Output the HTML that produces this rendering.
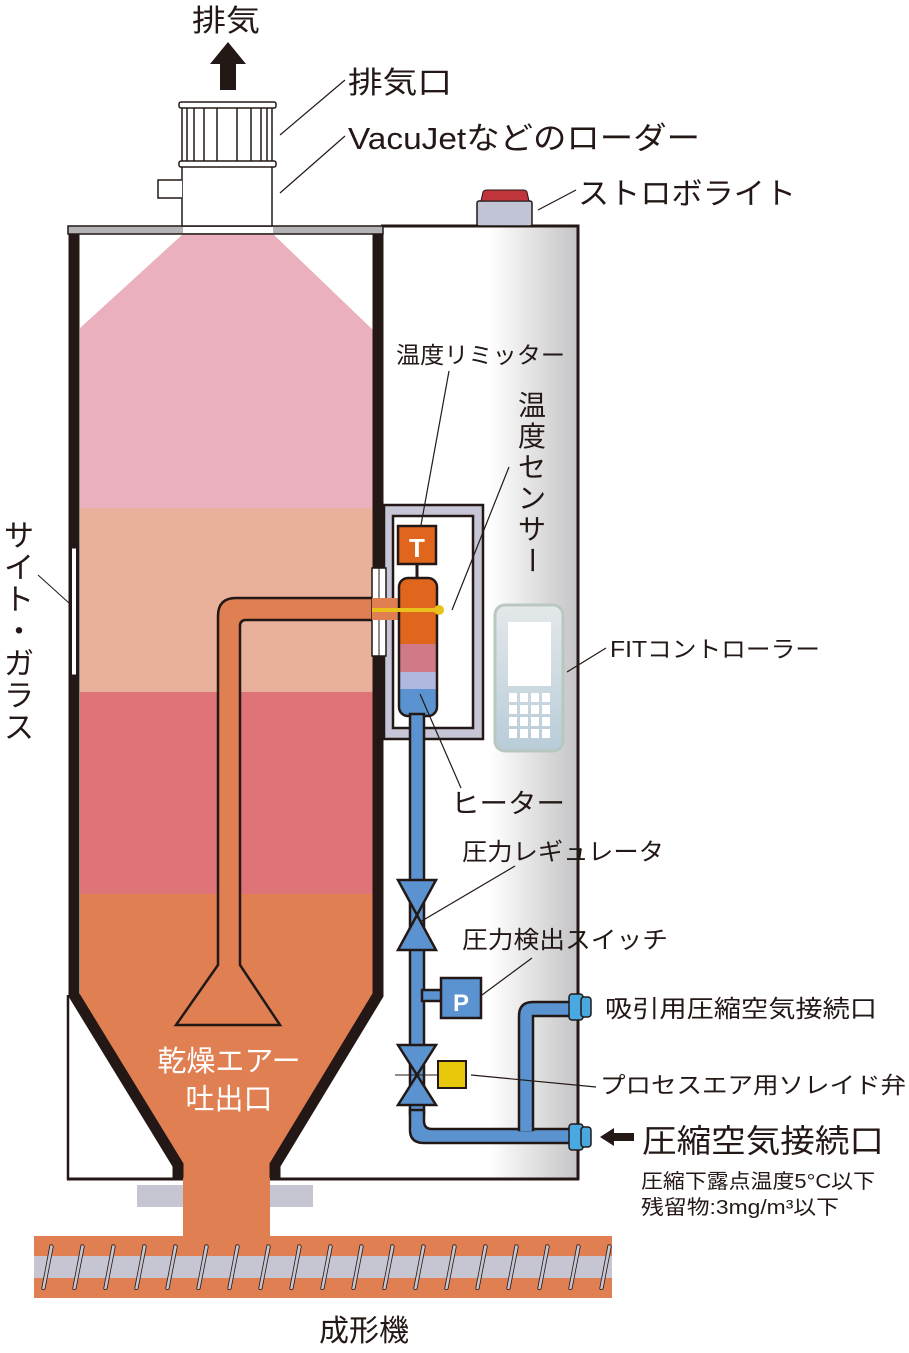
<!DOCTYPE html>
<html><head><meta charset="utf-8"><style>
html,body{margin:0;padding:0;background:#fff}
svg{display:block}
text{font-family:"Liberation Sans","Noto Sans CJK JP",sans-serif;fill:#231815}
</style></head><body>
<svg width="909" height="1353" viewBox="0 0 909 1353" xmlns="http://www.w3.org/2000/svg">
<defs>
<linearGradient id="cab" x1="0" x2="1" y1="0" y2="0">
<stop offset="0" stop-color="#fff"/><stop offset="0.55" stop-color="#fff"/><stop offset="1" stop-color="#c4c4c6"/>
</linearGradient>
<linearGradient id="fit" x1="0" x2="0" y1="0" y2="1">
<stop offset="0" stop-color="#e4e8ea"/><stop offset="1" stop-color="#b8ccd8"/>
</linearGradient>
</defs>

<!-- cabinet -->
<rect x="381" y="226" width="197" height="954" fill="url(#cab)"/>
<polyline points="381,226 578,226 578,1180" fill="none" stroke="#231815" stroke-width="3"/>
<!-- outer box left -->
<rect x="68" y="995" width="110" height="185" fill="#fff"/>
<line x1="68" y1="995" x2="68" y2="1180" stroke="#231815" stroke-width="2.5"/>
<!-- hopper contents -->
<polygon points="183,234 273,234 373,330 373,508 80,508 80,328" fill="#eab0bd"/>
<rect x="80" y="508" width="293" height="184" fill="#e9b09c"/>
<rect x="80" y="692" width="293" height="202" fill="#df7478"/>
<polygon points="80,894 373,894 373,995 270,1165 270,1180 183,1180 183,1165 80,995" fill="#e07f52"/>
<polygon points="80,995 183,1165 183,1178 70,1178 70,995" fill="#fff"/>
<polygon points="373,995 270,1165 270,1178 380,1178 380,995" fill="#fff"/>
<!-- walls -->
<polyline points="74,226 74,995 178,1165 178,1180" fill="none" stroke="#231815" stroke-width="11"/>
<polyline points="378,226 378,995 275,1165 275,1180" fill="none" stroke="#231815" stroke-width="11"/>
<line x1="67" y1="1179" x2="183" y2="1179" stroke="#231815" stroke-width="3"/>
<line x1="270" y1="1179" x2="579" y2="1179" stroke="#231815" stroke-width="3"/>
<!-- top bar -->
<rect x="68" y="226" width="315" height="8" fill="#b4b4b6" stroke="#231815" stroke-width="1.5"/>
<rect x="183" y="227" width="90" height="6" fill="#fff"/>
<!-- sight glass -->
<rect x="71.5" y="548" width="5" height="127" fill="#fff" stroke="#231815" stroke-width="1"/>
<line x1="38" y1="575" x2="69" y2="603" stroke="#231815" stroke-width="1"/>

<!-- neck + pads + screw -->
<rect x="137" y="1185" width="46" height="22" fill="#c6c6d2"/>
<rect x="270" y="1185" width="43" height="22" fill="#c6c6d2"/>
<rect x="183" y="1178" width="87" height="62" fill="#e07f52"/>
<rect x="34" y="1236" width="578" height="62" fill="#e07f52"/>
<rect x="34" y="1256" width="578" height="22" fill="#c6c6d2"/>
<g id="slots" fill="#c6c6d2" stroke="#231815" stroke-width="0.8"></g>

<!-- outlet pipe -->
<path d="M400,598 L236,598 Q218,598 218,616 L218,965 L176,1025 L280,1025 L240,965 L240,626 Q240,620 246,620 L400,620 Z" fill="#e07f52" stroke="#231815" stroke-width="2.5"/>

<!-- heater frame -->
<rect x="384" y="505" width="99" height="234" fill="#c6c6d6" stroke="#231815" stroke-width="2.5"/>
<rect x="393" y="516" width="80" height="212" fill="#fff" stroke="#231815" stroke-width="2.5"/>
<rect x="372" y="568" width="14" height="88" fill="#fff" stroke="#231815" stroke-width="1.5"/>
<line x1="379" y1="568" x2="379" y2="656" stroke="#231815" stroke-width="1"/>
<rect x="372" y="598" width="28" height="22" fill="#e07f52"/>
<!-- heater -->
<line x1="417" y1="565" x2="417" y2="580" stroke="#231815" stroke-width="3"/>
<clipPath id="hc"><rect x="399" y="578" width="38" height="138" rx="9"/></clipPath>
<g clip-path="url(#hc)">
<rect x="399" y="578" width="38" height="66" fill="#e0661e"/>
<rect x="399" y="644" width="38" height="28" fill="#d07a88"/>
<rect x="399" y="672" width="38" height="17" fill="#b0b8e0"/>
<rect x="399" y="689" width="38" height="27" fill="#5a93d0"/>
</g>
<rect x="399" y="578" width="38" height="138" rx="9" fill="none" stroke="#231815" stroke-width="2.5"/>
<line x1="372" y1="610" x2="437" y2="610" stroke="#e8c21a" stroke-width="4"/>
<circle cx="439" cy="610" r="5" fill="#e8c21a"/>
<rect x="398" y="526" width="38" height="38" fill="#e0661e" stroke="#231815" stroke-width="2.5"/>
<text x="417" y="557" text-anchor="middle" font-size="26" font-weight="bold" style="fill:#fff">T</text>

<!-- blue piping -->
<g stroke="#231815" stroke-width="2.5" fill="#5a93d0">
<rect x="410" y="714" width="14" height="400"/>
<path d="M410,1110 L410,1130 Q410,1143 424,1143 L572,1143 L572,1129 L432,1129 Q424,1129 424,1121 L424,1110 Z"/>
<path d="M519,1130 L519,1016 Q519,1002 533,1002 L572,1002 L572,1016 L533,1016 L533,1130 Z"/>
<rect x="422" y="990" width="22" height="11"/>
<polygon points="398,880 436,880 417,915"/>
<polygon points="398,950 436,950 417,915"/>
<polygon points="398,1045 436,1045 417,1075"/>
<polygon points="398,1105 436,1105 417,1075"/>
<rect x="441" y="978" width="40" height="40"/>
</g>
<rect x="411.3" y="1128" width="11.4" height="4" fill="#5a93d0"/>
<rect x="520.3" y="1127" width="11.4" height="4" fill="#5a93d0"/>
<line x1="395" y1="1075" x2="445" y2="1075" stroke="#231815" stroke-width="1"/>
<text x="461" y="1011" text-anchor="middle" font-size="24" font-weight="bold" style="fill:#fff">P</text>
<rect x="438" y="1061" width="28" height="27" fill="#e8c80a" stroke="#231815" stroke-width="2"/>
<g fill="#4aa8e0" stroke="#231815" stroke-width="1.5">
<rect x="569" y="994" width="14" height="26" rx="3"/><rect x="581" y="997" width="10" height="20" rx="3"/>
<rect x="569" y="1124" width="14" height="26" rx="3"/><rect x="581" y="1127" width="10" height="20" rx="3"/>
</g>

<!-- FIT controller -->
<rect x="495" y="605" width="68" height="146" rx="10" fill="url(#fit)" stroke="#b8c8c0" stroke-width="3"/>
<rect x="508" y="622" width="43" height="64" fill="#fff"/>
<g fill="#fff" id="keys"></g>

<!-- strobe -->
<rect x="477" y="201" width="55" height="25" rx="2" fill="#c0c4d4" stroke="#231815" stroke-width="1.5"/>
<path d="M481,201 L483,192 Q484,190 487,190 L523,190 Q526,190 527,192 L529,201 Z" fill="#c0343c" stroke="#231815" stroke-width="1"/>

<!-- loader -->
<rect x="182" y="166" width="90" height="60" fill="#fff" stroke="#231815" stroke-width="1.5"/>
<path d="M182,180 L158,180 L158,198 L182,198" fill="#fff" stroke="#231815" stroke-width="1.5"/>
<rect x="182" y="107" width="90" height="58" fill="#fff" stroke="#231815" stroke-width="1.5"/>
<g stroke="#231815" stroke-width="1.5">
<line x1="187" y1="107" x2="187" y2="165"/><line x1="194" y1="107" x2="194" y2="165"/><line x1="204" y1="107" x2="204" y2="165"/>
<line x1="217" y1="107" x2="217" y2="165"/><line x1="237" y1="107" x2="237" y2="165"/><line x1="251" y1="107" x2="251" y2="165"/>
<line x1="261" y1="107" x2="261" y2="165"/><line x1="267" y1="107" x2="267" y2="165"/>
</g>
<rect x="179" y="102" width="97" height="6" rx="2" fill="#fff" stroke="#231815" stroke-width="1.5"/>
<rect x="179" y="161" width="97" height="6" rx="2" fill="#fff" stroke="#231815" stroke-width="1.5"/>
<!-- up arrow -->
<polygon points="228,42 246,64 236,64 236,90 220,90 220,64 210,64" fill="#231815"/>

<!-- leaders -->
<g stroke="#231815" stroke-width="1.2">
<line x1="280" y1="135" x2="345" y2="80"/>
<line x1="280" y1="193" x2="345" y2="136"/>
<line x1="538" y1="210" x2="576" y2="190"/>
<line x1="449" y1="371" x2="421" y2="525"/>
<line x1="509" y1="467" x2="452" y2="610"/>
<line x1="567" y1="672" x2="606" y2="648"/>
<line x1="420" y1="694" x2="461" y2="788"/>
<line x1="420" y1="922" x2="515" y2="866"/>
<line x1="482" y1="995" x2="532" y2="958"/>
<line x1="471" y1="1075" x2="596" y2="1087"/>
</g>
<polygon points="600,1137 614,1128 614,1133 634,1133 634,1141 614,1141 614,1146" fill="#231815"/>

<!-- labels -->
<text x="192" y="31" font-size="30" textLength="68" lengthAdjust="spacingAndGlyphs">排気</text>
<text x="348" y="93" font-size="30" textLength="104" lengthAdjust="spacingAndGlyphs">排気口</text>
<text x="348" y="149" font-size="31" textLength="352" lengthAdjust="spacingAndGlyphs">VacuJetなどのローダー</text>
<text x="578" y="204" font-size="30" textLength="218" lengthAdjust="spacingAndGlyphs">ストロボライト</text>
<text x="396" y="363" font-size="23" textLength="169" lengthAdjust="spacingAndGlyphs">温度リミッター</text>
<g font-size="28">
<text x="532" y="415" text-anchor="middle">温</text>
<text x="532" y="446" text-anchor="middle">度</text>
<text x="532" y="477" text-anchor="middle">セ</text>
<text x="532" y="508" text-anchor="middle">ン</text>
<text x="532" y="539" text-anchor="middle">サ</text>
<text x="532" y="570" text-anchor="middle" transform="rotate(90 532 560)">ー</text>
</g>
<g font-size="30">
<text x="19" y="546" text-anchor="middle">サ</text>
<text x="19" y="578" text-anchor="middle">イ</text>
<text x="19" y="610" text-anchor="middle">ト</text>
<text x="19" y="642" text-anchor="middle">・</text>
<text x="19" y="674" text-anchor="middle">ガ</text>
<text x="19" y="706" text-anchor="middle">ラ</text>
<text x="19" y="738" text-anchor="middle">ス</text>
</g>
<text x="610" y="657" font-size="23" textLength="210" lengthAdjust="spacingAndGlyphs">FITコントローラー</text>
<text x="451" y="813" font-size="27" textLength="114" lengthAdjust="spacingAndGlyphs">ヒーター</text>
<text x="462" y="860" font-size="24" textLength="202" lengthAdjust="spacingAndGlyphs">圧力レギュレータ</text>
<text x="462" y="948" font-size="24" textLength="206" lengthAdjust="spacingAndGlyphs">圧力検出スイッチ</text>
<text x="605" y="1017" font-size="24" textLength="272" lengthAdjust="spacingAndGlyphs">吸引用圧縮空気接続口</text>
<text x="600" y="1093" font-size="23" textLength="306" lengthAdjust="spacingAndGlyphs">プロセスエア用ソレイド弁</text>
<text x="642" y="1152" font-size="32" textLength="242" lengthAdjust="spacingAndGlyphs">圧縮空気接続口</text>
<text x="641" y="1188" font-size="20" textLength="234" lengthAdjust="spacingAndGlyphs">圧縮下露点温度5°C以下</text>
<text x="641" y="1214" font-size="20" textLength="198" lengthAdjust="spacingAndGlyphs">残留物:3mg/m³以下</text>
<text x="229" y="1071" font-size="29" text-anchor="middle" style="fill:#fff">乾燥エアー</text>
<text x="229" y="1109" font-size="29" text-anchor="middle" style="fill:#fff">吐出口</text>
<text x="364" y="1341" font-size="30" text-anchor="middle">成形機</text>
</svg>
<script>
(function(){
var ns="http://www.w3.org/2000/svg";
var g=document.getElementById('slots');
for(var i=0;i<19;i++){var x=42+i*31;
var p=document.createElementNS(ns,'path');
p.setAttribute('d','M'+(x+8)+',1245 Q'+(x+12)+',1244 '+(x+11)+',1248 L'+(x+3)+',1289 Q'+(x-1)+',1291 '+(x)+',1287 Z');
g.appendChild(p);}
var k=document.getElementById('keys');
for(var r=0;r<4;r++)for(var c=0;c<4;c++){var e=document.createElementNS(ns,'rect');
e.setAttribute('x',509+c*11);e.setAttribute('y',693+r*12);e.setAttribute('width',8);e.setAttribute('height',9);k.appendChild(e);}
})();
</script>
</body></html>
